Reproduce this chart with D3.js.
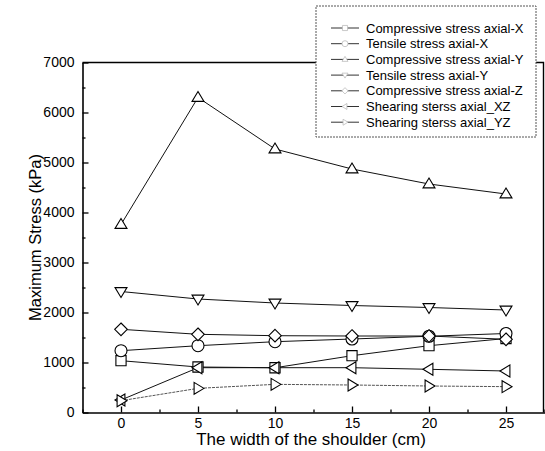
<!DOCTYPE html>
<html>
<head>
<meta charset="utf-8">
<script src="https://cdn.jsdelivr.net/npm/d3@7"></script>
<style>
  body { margin: 0; background: #fff; }
  svg { display: block; font-family: "Liberation Sans", Arial, sans-serif; }
</style>
</head>
<body>
<svg id="chart" width="545" height="451"></svg>
<script>
// Shoulder width (cm) on the x axis
const widths = [0, 5, 10, 15, 20, 25];

// Maximum stress values (kPa) for each stress component
const compressiveX = [1036, 910, 895, 1136, 1336, 1480];
const tensileX     = [1236, 1336, 1416, 1470, 1525, 1580];
const compressiveY = [3760, 6300, 5270, 4870, 4570, 4370];
const tensileY     = [2420, 2270, 2190, 2140, 2100, 2050];
const compressiveZ = [1664, 1564, 1536, 1530, 1530, 1464];
const shearingXZ   = [250, 896, 896, 896, 864, 830];
const shearingYZ   = [236, 483, 563, 550, 530, 517];

const seriesNames = [
  "Compressive  stress axial-X",
  "Tensile  stress axial-X",
  "Compressive  stress axial-Y",
  "Tensile  stress axial-Y",
  "Compressive  stress axial-Z",
  "Shearing sterss axial_XZ",
  "Shearing sterss axial_YZ"
];
const seriesValues = [compressiveX, tensileX, compressiveY, tensileY, compressiveZ, shearingXZ, shearingYZ];
const seriesSymbols = ["square", "circle", "triUp", "triDown", "diamond", "triLeft", "triRight"];

const xTicks = [0, 5, 10, 15, 20, 25];
const xMinorTicks = [-2.5, 2.5, 7.5, 12.5, 17.5, 22.5, 27.5];
const yTicks = [0, 1000, 2000, 3000, 4000, 5000, 6000, 7000];
const yMinorTicks = [500, 1500, 2500, 3500, 4500, 5500, 6500];

const xTitle = "The width of the shoulder (cm)";
const yTitle = "Maximum  Stress (kPa)";

const svg = d3.select("#chart");
const x = d3.scaleLinear().domain([-2.5, 27.5]).range([82.5, 544.5]);
const y = d3.scaleLinear().domain([0, 7000]).range([412.5, 62.5]);

// marker path generator (centered at 0,0)
function symbolPath(kind, r) {
  const h = r * 0.866;
  switch (kind) {
    case "square": return `M${-r*0.85},${-r*0.85}H${r*0.85}V${r*0.85}H${-r*0.85}Z`;
    case "circle": return `M${r},0A${r},${r} 0 1,1 ${-r},0A${r},${r} 0 1,1 ${r},0Z`;
    case "triUp": return `M0,${-r}L${h*1.15},${r*0.65}L${-h*1.15},${r*0.65}Z`;
    case "triDown": return `M0,${r}L${h*1.15},${-r*0.65}L${-h*1.15},${-r*0.65}Z`;
    case "diamond": return `M0,${-r*1.05}L${r*1.05},0L0,${r*1.05}L${-r*1.05},0Z`;
    case "triLeft": return `M${-r},0L${r*0.65},${-h*1.15}L${r*0.65},${h*1.15}Z`;
    case "triRight": return `M${r},0L${-r*0.65},${-h*1.15}L${-r*0.65},${h*1.15}Z`;
  }
}

// axes with inward ticks
svg.append("g").attr("transform", `translate(0,${y(0)})`)
  .call(d3.axisBottom(x).tickValues(xTicks).tickSizeInner(-6).tickSizeOuter(0).tickPadding(6).tickFormat(d3.format("d")));
svg.append("g").attr("transform", `translate(0,${y(0)})`)
  .call(d3.axisBottom(x).tickValues(xMinorTicks).tickSize(-3).tickFormat(""))
  .select(".domain").remove();
svg.append("g").attr("transform", `translate(${x(-2.5)},0)`)
  .call(d3.axisLeft(y).tickValues(yTicks).tickSizeInner(-6).tickSizeOuter(0).tickPadding(8).tickFormat(d3.format("d")));
svg.append("g").attr("transform", `translate(${x(-2.5)},0)`)
  .call(d3.axisLeft(y).tickValues(yMinorTicks).tickSize(-3).tickFormat(""))
  .select(".domain").remove();

svg.selectAll(".domain").attr("stroke", "#000").attr("stroke-width", 1.6);
svg.selectAll(".tick line").attr("stroke", "#000").attr("stroke-width", 1.3);
svg.selectAll(".tick text").attr("fill", "#000").attr("font-size", 14)
  .attr("font-family", "'Liberation Sans', Arial, sans-serif");

// top and right frame
const frameRight = x(27.5) - 1;
svg.append("path")
  .attr("d", `M${x(-2.5)},${y(7000)}H${frameRight}V${y(0)}`)
  .attr("fill", "none").attr("stroke", "#000").attr("stroke-width", 1.4);

// axis titles
svg.append("text")
  .attr("x", 311).attr("y", 445)
  .attr("text-anchor", "middle").attr("font-size", 17).text(xTitle);
svg.append("text")
  .attr("transform", `translate(35,${(y(0) + y(7000)) / 2}) rotate(-90)`)
  .attr("dy", "0.35em")
  .attr("text-anchor", "middle").attr("font-size", 16.5).text(yTitle);

// series lines and markers
const line = d3.line().x((d, i) => x(widths[i])).y(d => y(d));
seriesValues.forEach((vals, k) => {
  svg.append("path").datum(vals)
    .attr("d", line)
    .attr("fill", "none")
    .attr("stroke", k === 6 ? "#555" : "#111")
    .attr("stroke-width", 1)
    .attr("stroke-dasharray", k === 6 ? "3,1" : null);
});
seriesValues.forEach((vals, k) => {
  svg.append("g").selectAll("path").data(vals).join("path")
    .attr("transform", (d, i) => `translate(${x(widths[i])},${y(d)})`)
    .attr("d", symbolPath(seriesSymbols[k], 6))
    .attr("fill", "#fff")
    .attr("stroke", "#000")
    .attr("stroke-width", 1.1);
});

// legend
const lg = svg.append("g").attr("transform", "translate(316,6)");
lg.append("rect").attr("x", 0).attr("y", 0).attr("width", 220).attr("height", 131)
  .attr("fill", "#fff").attr("stroke", "#555").attr("stroke-width", 1)
  .attr("stroke-dasharray", "2,1");
seriesNames.forEach((name, k) => {
  const ry = 22 + k * 15.7;
  const row = lg.append("g").attr("transform", `translate(0,${ry})`);
  row.append("line").attr("x1", 15).attr("x2", 43).attr("y1", 0).attr("y2", 0)
    .attr("stroke", "#333").attr("stroke-width", 1);
  row.append("path").attr("transform", "translate(29,0)")
    .attr("d", symbolPath(seriesSymbols[k], 3))
    .attr("fill", "#fff").attr("stroke", "#bbb").attr("stroke-width", 0.8);
  row.append("text").attr("x", 50).attr("y", 0).attr("dy", "0.35em")
    .attr("font-size", 13).text(name);
});
</script>
</body>
</html>
